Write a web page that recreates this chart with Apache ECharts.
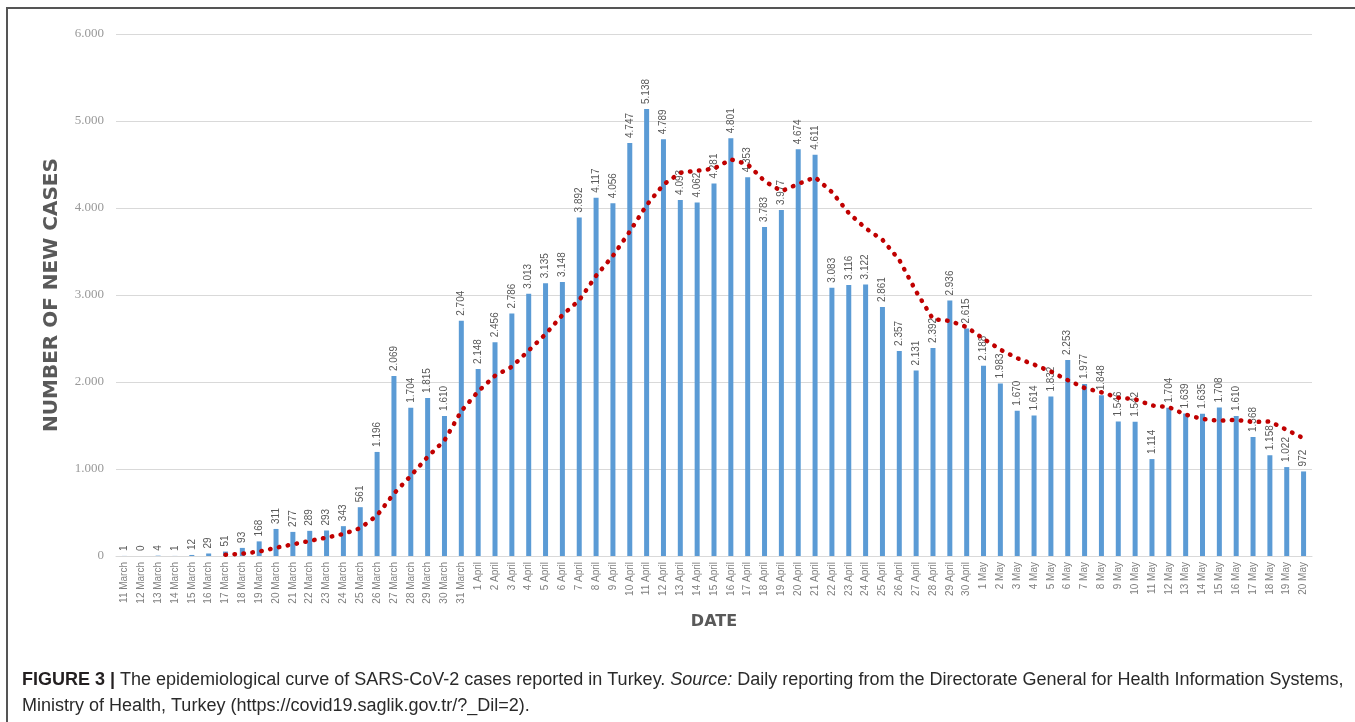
<!DOCTYPE html>
<html>
<head>
<meta charset="utf-8">
<style>
  html, body { margin: 0; padding: 0; background: #fff; }
  #main { width: 1355px; height: 722px; }
</style>
</head>
<body>
<div id="main"></div>
<script src="https://cdn.jsdelivr.net/npm/echarts@6/dist/echarts.min.js"></script>
<script>
var dates = [
  '11 March', '12 March', '13 March', '14 March', '15 March', '16 March', '17 March',
  '18 March', '19 March', '20 March', '21 March', '22 March', '23 March', '24 March',
  '25 March', '26 March', '27 March', '28 March', '29 March', '30 March', '31 March',
  '1 April', '2 April', '3 April', '4 April', '5 April', '6 April', '7 April', '8 April',
  '9 April', '10 April', '11 April', '12 April', '13 April', '14 April', '15 April',
  '16 April', '17 April', '18 April', '19 April', '20 April', '21 April', '22 April',
  '23 April', '24 April', '25 April', '26 April', '27 April', '28 April', '29 April',
  '30 April', '1 May', '2 May', '3 May', '4 May', '5 May', '6 May', '7 May', '8 May',
  '9 May', '10 May', '11 May', '12 May', '13 May', '14 May', '15 May', '16 May',
  '17 May', '18 May', '19 May', '20 May'
];

var newCases = [
  1, 0, 4, 1, 12, 29, 51, 93, 168, 311, 277, 289, 293, 343, 561, 1196, 2069, 1704, 1815, 1610, 2704,
  2148, 2456, 2786, 3013, 3135, 3148, 3892, 4117, 4056, 4747, 5138, 4789, 4093, 4062, 4281,
  4801, 4353, 3783, 3977, 4674, 4611, 3083, 3116, 3122, 2861, 2357, 2131, 2392, 2936, 2615,
  2188, 1983, 1670, 1614, 1832, 2253, 1977, 1848, 1546, 1542, 1114, 1704, 1639, 1635, 1708,
  1610, 1368, 1158, 1022, 972
];

// red dotted trend (7-day moving average as drawn in the figure)
var trend = [
  '-', '-', '-', '-', '-', '-', 14, 27, 51, 95, 134, 174, 212, 253, 320, 467, 718, 922, 1140, 1328, 1666,
  1892, 2072, 2175, 2362, 2550, 2770, 2940, 3221, 3450, 3730, 4033, 4270, 4405, 4429, 4452,
  4559, 4502, 4309, 4193, 4276, 4354, 4183, 3942, 3767, 3635, 3403, 3040, 2723, 2702, 2631,
  2497, 2372, 2274, 2200, 2120, 2022, 1931, 1882, 1820, 1802, 1730, 1712, 1624, 1575, 1555,
  1565, 1540, 1546, 1449, 1353
];

function dotThousands(v) {
  return String(v).replace(/\B(?=(\d{3})+(?!\d))/g, '.');
}

var chart = echarts.init(document.getElementById('main'));

chart.setOption({
  animation: false,
  backgroundColor: '#fff',
  grid: { left: 116, right: 43, top: 34, bottom: 166 },
  title: {
    left: 22,
    top: 667,
    padding: 0,
    text: '{b|FIGURE 3 |} The epidemiological curve of SARS-CoV-2 cases reported in Turkey. {i|Source:} Daily reporting from the Directorate General for Health Information Systems,\nMinistry of Health, Turkey (https://covid19.saglik.gov.tr/?_Dil=2).',
    textStyle: {
      fontFamily: 'Liberation Sans',
      fontSize: 18,
      fontWeight: 'normal',
      color: '#2a2a2a',
      lineHeight: 26,
      rich: {
        b: { fontFamily: 'Liberation Sans', fontSize: 18, fontWeight: 'bold', color: '#231f20', lineHeight: 26 },
        i: { fontFamily: 'Liberation Sans', fontSize: 18, fontStyle: 'italic', color: '#2a2a2a', lineHeight: 26 }
      }
    }
  },
  graphic: [{
    type: 'polyline',
    shape: { points: [[7, 722], [7, 8], [1355, 8]] },
    style: { stroke: '#555', lineWidth: 2, fill: null }
  }],
  xAxis: {
    type: 'category',
    data: dates,
    name: 'DATE',
    nameLocation: 'middle',
    nameGap: 58,
    nameTextStyle: { fontFamily: 'DejaVu Sans', fontWeight: 'bold', fontSize: 16, color: '#595959' },
    axisLine: { lineStyle: { color: '#d9d9d9' } },
    axisTick: { show: false },
    axisLabel: {
      interval: 0,
      rotate: 90,
      margin: 6,
      fontFamily: 'Liberation Sans',
      fontSize: 10,
      color: '#7f7f7f'
    }
  },
  yAxis: {
    type: 'value',
    min: 0,
    max: 6000,
    interval: 1000,
    name: 'NUMBER OF NEW CASES',
    nameLocation: 'middle',
    nameGap: 54,
    nameTextStyle: { fontFamily: 'DejaVu Sans', fontWeight: 'bold', fontSize: 20, color: '#595959' },
    axisLine: { show: false },
    axisTick: { show: false },
    splitLine: { lineStyle: { color: '#d9d9d9', width: 1 } },
    axisLabel: {
      margin: 12,
      fontFamily: 'Liberation Serif',
      fontSize: 13,
      color: '#999',
      formatter: dotThousands
    }
  },
  series: [{
    type: 'bar',
    data: newCases,
    barWidth: 5,
    itemStyle: { color: '#5b9bd5' },
    label: {
      show: true,
      position: 'top',
      rotate: 90,
      align: 'left',
      verticalAlign: 'middle',
      distance: 5,
      fontFamily: 'Liberation Sans',
      fontSize: 10,
      color: '#595959',
      formatter: function (p) { return dotThousands(p.value); }
    },
    z: 2
  }, {
    type: 'line',
    data: trend,
    symbol: 'none',
    lineStyle: { color: '#c00000', width: 4.5, type: [0.5, 8.5], cap: 'round' },
    z: 3
  }]
});
</script>
</body>
</html>
